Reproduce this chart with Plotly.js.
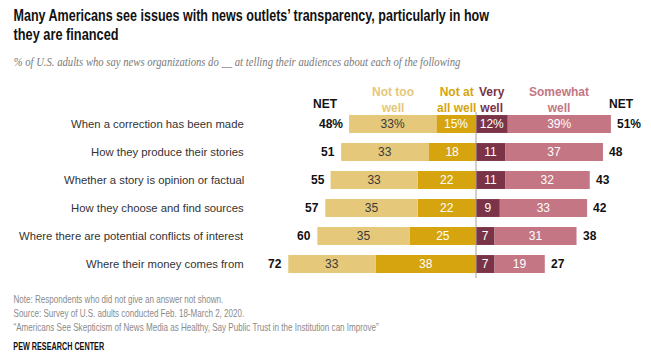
<!DOCTYPE html>
<html>
<head>
<meta charset="utf-8">
<script src="https://cdn.plot.ly/plotly-3.0.1.min.js"></script>
<style>html,body{margin:0;padding:0;background:#fff;}#chart{width:651px;height:364px;}</style>
</head>
<body>
<div id="chart"></div>
<script>
const categories = [
  "When a correction has been made",
  "How they produce their stories",
  "Whether a story is opinion or factual",
  "How they choose and find sources",
  "Where there are potential conflicts of interest",
  "Where their money comes from"
];
const notTooWell   = [33, 33, 33, 35, 35, 33];
const notAtAllWell = [15, 18, 22, 22, 25, 38];
const veryWell     = [12, 11, 11, 9, 7, 7];
const somewhatWell = [39, 37, 32, 33, 31, 19];
const netNotWell   = [48, 51, 55, 57, 60, 72];
const netWell      = [51, 48, 43, 42, 38, 27];

const C_NTW = "#E5C87A", C_NAW = "#D6A40F", C_VW = "#7A3347", C_SW = "#C47684";
const sans = "Liberation Sans, Arial, sans-serif";

function lbl(arr){ return arr.map((v,i)=> i===0 ? v+"%" : String(v)); }
function mk(vals, sign, color, tcolor, name){
  return {
    type: "bar", orientation: "h", name: name,
    y: categories, x: vals.map(v=>sign*v),
    marker: {color: color, line: {width: 0}},
    text: lbl(vals), textposition: "inside", insidetextanchor: "middle",
    textangle: 0, constraintext: "none",
    textfont: {color: tcolor, size: 12, family: sans},
    hoverinfo: "skip", cliponaxis: false
  };
}
const data = [
  mk(notAtAllWell, -1, C_NAW, "#ffffff", "Not at all well"),
  mk(notTooWell, -1, C_NTW, "#3a3a3a", "Not too well"),
  mk(veryWell, 1, C_VW, "#ffffff", "Very well"),
  mk(somewhatWell, 1, C_SW, "#ffffff", "Somewhat well")
];

const ann = [];
categories.forEach((c,i)=>{
  ann.push({x: -86.8, y: c, xref: "x", yref: "y", text: c, showarrow: false, xanchor: "right",
    font: {family: sans, size: 11.3, color: "#333"}});
  const leftEnd = -(notTooWell[i] + notAtAllWell[i]);
  const rightEnd = veryWell[i] + somewhatWell[i];
  ann.push({x: leftEnd, y: c, xref: "x", yref: "y", text: "<b>"+netNotWell[i]+(i===0?"%":"")+"</b>",
    showarrow: false, xanchor: "right", xshift: -4, font: {family: sans, size: 12, color: "#111"}});
  ann.push({x: rightEnd, y: c, xref: "x", yref: "y", text: "<b>"+netWell[i]+(i===0?"%":"")+"</b>",
    showarrow: false, xanchor: "left", xshift: 4, font: {family: sans, size: 12, color: "#111"}});
});
// column headers centred over the first row's segments
const hdrY = -0.84;
const h = [
  {x: -(notAtAllWell[0] + notTooWell[0]/2), t: "Not too<br>well", c: C_NTW},
  {x: -notAtAllWell[0]/2, t: "Not at<br>all well", c: C_NAW},
  {x: veryWell[0]/2, t: "Very<br>well", c: C_VW},
  {x: veryWell[0] + somewhatWell[0]/2, t: "Somewhat<br>well", c: C_SW}
];
h.forEach(o=>ann.push({x: o.x, y: hdrY, xref: "x", yref: "y", text: "<b>"+o.t+"</b>", showarrow: false,
  xanchor: "center", yanchor: "middle", font: {family: sans, size: 12, color: o.c}}));
ann.push({x: -57, y: -0.71, xref: "x", yref: "y", text: "<b>NET</b>", showarrow: false, xanchor: "center",
  font: {family: sans, size: 12, color: "#111"}});
ann.push({x: 55, y: -0.71, xref: "x", yref: "y", text: "<b>NET</b>", showarrow: false, xanchor: "center",
  font: {family: sans, size: 12, color: "#111"}});

// title, subtitle, notes (pixel positions converted to paper), with target widths for horizontal fit
const fitted = [];
function paperText(text, xpx, ypx, font, targetW, yanchor){
  fitted.push({idx: ann.length, x0: xpx, w: targetW});
  ann.push({x: xpx/651, y: 1 - ypx/364, xref: "paper", yref: "paper", text: text, showarrow: false,
    xanchor: "left", yanchor: yanchor || "middle", align: "left", font: font});
}
paperText("<b>Many Americans see issues with news outlets\u2019 transparency, particularly in how</b>",
  12, 15.5, {family: sans, size: 16.5, color: "#111"}, 476);
paperText("<b>they are financed</b>",
  12, 34, {family: sans, size: 16.5, color: "#111"}, 105);
paperText("<i>% of U.S. adults who say news organizations do __ at telling their audiences about each of the following</i>",
  12, 61.5, {family: "Liberation Serif, Times New Roman, serif", size: 13, color: "#7a7a7a"}, 448);
paperText("Note: Respondents who did not give an answer not shown.", 12, 299, {family: sans, size: 10.5, color: "#8a8a8a"}, 210);
paperText("Source: Survey of U.S. adults conducted Feb. 18-March 2, 2020.", 12, 313, {family: sans, size: 10.5, color: "#8a8a8a"}, 231);
paperText("\u201cAmericans See Skepticism of News Media as Healthy, Say Public Trust in the Institution can Improve\u201d", 12, 327, {family: sans, size: 10.5, color: "#8a8a8a"}, 366);
paperText("<b>PEW RESEARCH CENTER</b>", 12, 346, {family: sans, size: 11, color: "#111"}, 91);

const layout = {
  width: 651, height: 364,
  margin: {l: 0, r: 0, t: 0, b: 0},
  paper_bgcolor: "#fff", plot_bgcolor: "#fff",
  barmode: "relative", bargap: 0.36, showlegend: false,
  xaxis: {range: [-180, 66.16], visible: false, fixedrange: true},
  yaxis: {type: "category", range: [8.571, -4.4286], visible: false, fixedrange: true},
  shapes: [{type: "line", xref: "x", yref: "y", x0: 0, x1: 0, y0: -0.43, y1: 5.5,
    line: {color: "#a0a0a0", width: 1}, layer: "above"}],
  annotations: ann
};
Plotly.newPlot("chart", data, layout, {displayModeBar: false, staticPlot: true}).then(gd=>{
  // condense wide texts horizontally to match the narrow typeface of the original
  fitted.forEach(f=>{
    const g = gd.querySelector('.annotation[data-index="'+f.idx+'"]');
    if(!g) return;
    const t = g.querySelector('text');
    if(!t) return;
    const bb = t.getBBox();
    if(bb.width <= 0) return;
    const s = Math.min(1, f.w / bb.width);
    const prev = g.getAttribute('transform') || '';
    g.setAttribute('transform', 'translate('+f.x0+',0) scale('+s+',1) translate('+(-f.x0)+',0) ' + prev);
  });
});
</script>
</body>
</html>
